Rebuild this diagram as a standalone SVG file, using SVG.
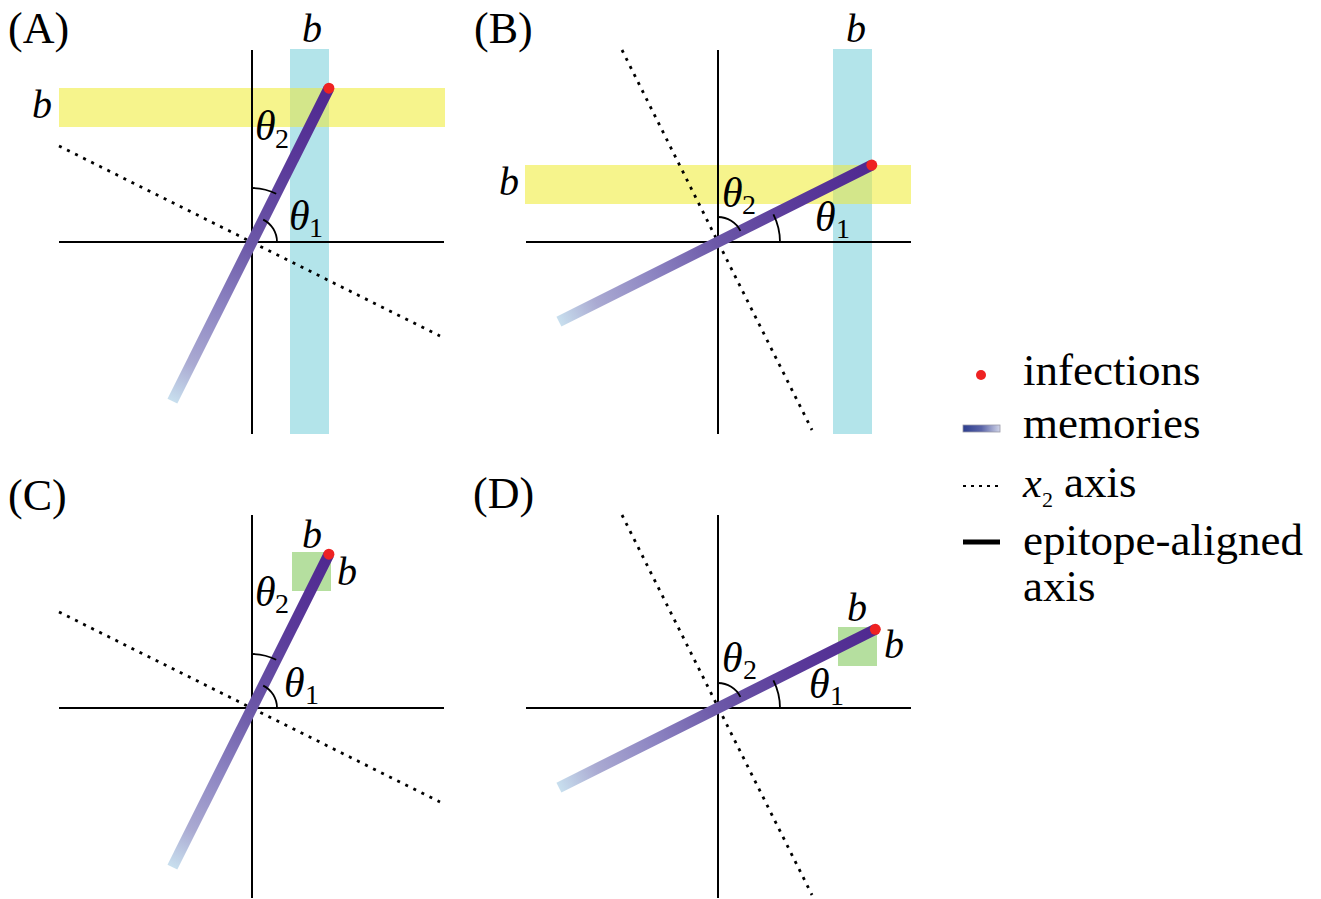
<svg xmlns="http://www.w3.org/2000/svg" xmlns:xlink="http://www.w3.org/1999/xlink" width="1321" height="899" viewBox="0 0 1321 899">
<style>
.ax{stroke:#000;stroke-width:2;fill:none}
.dot{stroke:#000;stroke-width:2.8;stroke-dasharray:3 6;fill:none}
.arc{stroke:#000;stroke-width:1.8;fill:none}
.mem{stroke-width:11;fill:none;stroke-linecap:butt}
.inf{fill:#ee2222}
.cy{fill:#b3e4ea}
.ye{fill:#f6f48c}
.ov{fill:#d3e68a}
.gr{fill:#b5df9f}
text{font-family:"Liberation Serif","Times New Roman","DejaVu Serif",serif;fill:#000}
.lab{font-size:44px}
.m{font-style:italic;font-size:40px}
.th{font-style:italic;font-size:42px}
.sub{font-size:28px}
.leg{font-size:45px}
</style>
<defs>
<linearGradient id="mem">
<stop offset="0" stop-color="#c8dfee"/>
<stop offset="0.12" stop-color="#aaaad2"/>
<stop offset="0.3" stop-color="#8d85c2"/>
<stop offset="0.5" stop-color="#6c58a8"/>
<stop offset="0.75" stop-color="#5a3a9a"/>
<stop offset="1" stop-color="#4f2890"/>
</linearGradient>
<linearGradient id="gA" href="#mem" xlink:href="#mem" gradientUnits="userSpaceOnUse" x1="172.4" y1="401.1" x2="328.9" y2="88.2"/>
<linearGradient id="gB" href="#mem" xlink:href="#mem" gradientUnits="userSpaceOnUse" x1="558.9" y1="321.6" x2="871.8" y2="165.1"/>
<linearGradient id="gC" href="#mem" xlink:href="#mem" gradientUnits="userSpaceOnUse" x1="172.4" y1="867.1" x2="328.9" y2="554.2"/>
<linearGradient id="gD" href="#mem" xlink:href="#mem" gradientUnits="userSpaceOnUse" x1="558.9" y1="787.6" x2="875.3" y2="629.3"/>
<linearGradient id="gL" x1="0" y1="0" x2="1" y2="0">
<stop offset="0" stop-color="#2c3d8e"/>
<stop offset="0.5" stop-color="#5a64a8"/>
<stop offset="1" stop-color="#d0d4e8"/>
</linearGradient>
</defs>

<g id="panelA">
<text class="lab" x="8" y="43">(A)</text>
<rect class="cy" x="290" y="49" width="39" height="385"/>
<rect class="ye" x="59" y="88" width="386" height="39"/>
<rect class="ov" x="290" y="88" width="39" height="39"/>
<line class="ax" x1="252" y1="50" x2="252" y2="434"/>
<line class="ax" x1="59" y1="242" x2="444" y2="242"/>
<line class="dot" x1="59" y1="146" x2="440" y2="336"/>
<line class="mem" stroke="url(#gA)" x1="172.4" y1="401.1" x2="328.9" y2="88.2"/>
<circle class="inf" cx="328.9" cy="88.2" r="5.5"/>
<path class="arc" d="M277,242 A25,25 0 0 0 263.2,219.6"/>
<path class="arc" d="M252,188 A54,54 0 0 1 276.2,193.7"/>
<text class="m" x="302" y="42">b</text>
<text class="m" x="32" y="118">b</text>
<text class="th" x="255" y="140">θ</text><text class="sub" x="275" y="148">2</text>
<text class="th" x="289" y="230">θ</text><text class="sub" x="309" y="237">1</text>
</g>

<g id="panelB">
<text class="lab" x="474" y="43">(B)</text>
<rect class="cy" x="833" y="49" width="39" height="385"/>
<rect class="ye" x="525" y="165" width="386" height="39"/>
<rect class="ov" x="833" y="165" width="39" height="39"/>
<line class="ax" x1="718" y1="50" x2="718" y2="434"/>
<line class="ax" x1="526" y1="242" x2="911" y2="242"/>
<line class="dot" x1="622" y1="50" x2="812" y2="430"/>
<line class="mem" stroke="url(#gB)" x1="558.9" y1="321.6" x2="871.8" y2="165.1"/>
<circle class="inf" cx="871.8" cy="165.1" r="5.5"/>
<path class="arc" d="M780,242 A62,62 0 0 0 773.4,214.3"/>
<path class="arc" d="M718,217 A25,25 0 0 1 740.4,230.8"/>
<text class="m" x="846" y="42">b</text>
<text class="m" x="499" y="195">b</text>
<text class="th" x="722" y="207">θ</text><text class="sub" x="742" y="214">2</text>
<text class="th" x="815" y="231">θ</text><text class="sub" x="836" y="238">1</text>
</g>

<g id="panelC">
<text class="lab" x="8" y="510">(C)</text>
<rect class="gr" x="292" y="552" width="39" height="39"/>
<line class="ax" x1="252" y1="515" x2="252" y2="898"/>
<line class="ax" x1="59" y1="708" x2="444" y2="708"/>
<line class="dot" x1="59" y1="612" x2="440" y2="802"/>
<line class="mem" stroke="url(#gC)" x1="172.4" y1="867.1" x2="328.9" y2="554.2"/>
<circle class="inf" cx="328.9" cy="554.2" r="5.5"/>
<path class="arc" d="M277,708 A25,25 0 0 0 263.2,685.6"/>
<path class="arc" d="M252,654 A54,54 0 0 1 276.2,659.7"/>
<text class="m" x="302" y="548">b</text>
<text class="m" x="337" y="585">b</text>
<text class="th" x="255" y="606">θ</text><text class="sub" x="275" y="613">2</text>
<text class="th" x="284" y="697">θ</text><text class="sub" x="305" y="704">1</text>
</g>

<g id="panelD">
<text class="lab" x="473" y="508">(D)</text>
<rect class="gr" x="838" y="627" width="39" height="39"/>
<line class="ax" x1="718" y1="515" x2="718" y2="898"/>
<line class="ax" x1="526" y1="708" x2="911" y2="708"/>
<line class="dot" x1="622" y1="515" x2="812" y2="895"/>
<line class="mem" stroke="url(#gD)" x1="558.9" y1="787.6" x2="875.3" y2="629.3"/>
<circle class="inf" cx="875.3" cy="629.3" r="5.5"/>
<path class="arc" d="M780,708 A62,62 0 0 0 773.4,680.3"/>
<path class="arc" d="M718,683 A25,25 0 0 1 740.4,696.8"/>
<text class="m" x="847" y="621">b</text>
<text class="m" x="884" y="658">b</text>
<text class="th" x="722" y="672">θ</text><text class="sub" x="743" y="679">2</text>
<text class="th" x="809" y="698">θ</text><text class="sub" x="830" y="705">1</text>
</g>

<g id="legend">
<circle class="inf" cx="981" cy="375" r="5"/>
<text class="leg" x="1023" y="385">infections</text>
<rect x="963" y="425" width="37" height="7" fill="url(#gL)" stroke="#9a9aa8" stroke-width="0.8"/>
<text class="leg" x="1023" y="438">memories</text>
<line x1="963" y1="486" x2="1000" y2="486" stroke="#000" stroke-width="2" stroke-dasharray="3 5"/>
<text class="leg" x="1023" y="497"><tspan font-style="italic" font-size="42">x</tspan><tspan x="1042" y="507" font-size="22">2</tspan><tspan x="1064" y="497">axis</tspan></text>
<line x1="963" y1="542" x2="1000" y2="542" stroke="#000" stroke-width="5"/>
<text class="leg" x="1023" y="555">epitope-aligned</text>
<text class="leg" x="1023" y="601">axis</text>
</g>
</svg>
